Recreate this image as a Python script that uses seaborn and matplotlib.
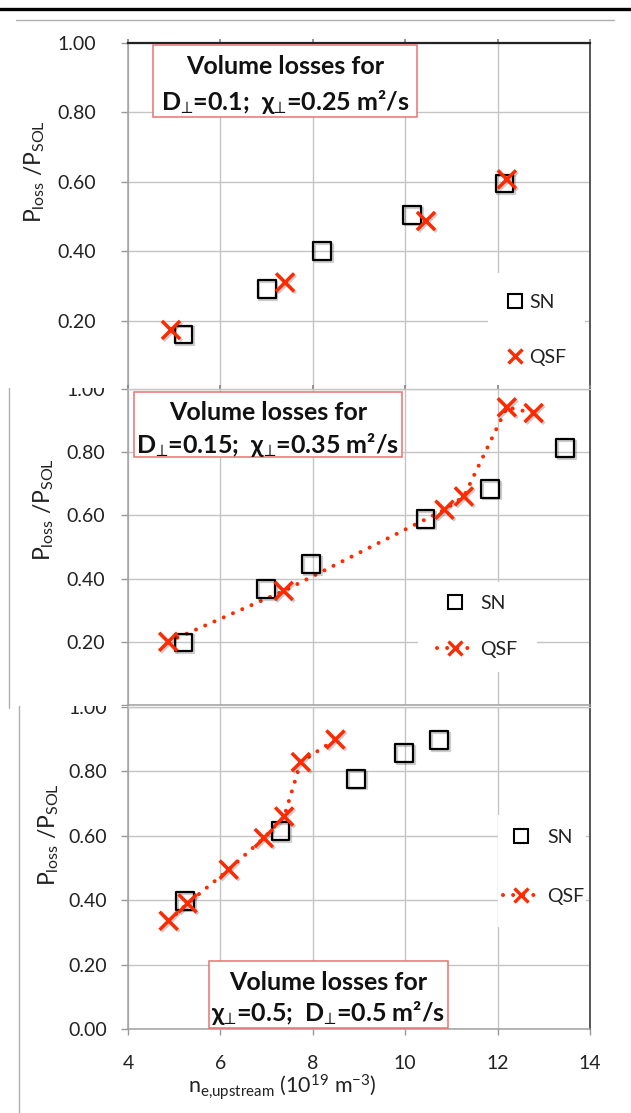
import matplotlib
matplotlib.use("Agg")
import matplotlib.pyplot as plt
import matplotlib.patheffects as pe
import numpy as np
import pandas as pd
import seaborn as sns
from matplotlib.lines import Line2D
from matplotlib.patches import Rectangle
from matplotlib.transforms import Bbox, TransformedBbox

# ---------------- data ----------------
x_ticks = [4, 6, 8, 10, 12, 14]
y_ticks = [0.0, 0.2, 0.4, 0.6, 0.8, 1.0]

# panel 1 : D=0.1, chi=0.25
sn1_x = [5.2, 7.0, 8.2, 10.15, 12.15]
sn1_y = [0.16, 0.29, 0.40, 0.505, 0.595]
qsf1_x = [4.93, 7.4, 10.45, 12.2]
qsf1_y = [0.173, 0.31, 0.487, 0.607]

# panel 2 : D=0.15, chi=0.35
sn2_x = [5.2, 6.99, 7.97, 10.44, 11.84, 13.46]
sn2_y = [0.198, 0.366, 0.445, 0.589, 0.684, 0.812]
qsf2_x = [4.87, 7.37, 10.85, 11.27, 12.2, 12.78]
qsf2_y = [0.200, 0.361, 0.618, 0.660, 0.942, 0.924]

# panel 3 : chi=0.5, D=0.5
sn3_x = [5.24, 7.30, 8.94, 9.98, 10.73]
sn3_y = [0.398, 0.615, 0.777, 0.857, 0.897]
qsf3_x = [4.88, 5.29, 6.18, 6.94, 7.38, 7.74, 8.49]
qsf3_y = [0.336, 0.390, 0.495, 0.593, 0.660, 0.829, 0.899]

titles1 = ["Volume losses for", r"D$_{⊥}$=0.1;  χ$_{⊥}$=0.25 m²/s"]
titles2 = ["Volume losses for", r"D$_{⊥}$=0.15;  χ$_{⊥}$=0.35 m²/s"]
titles3 = ["Volume losses for", r"χ$_{⊥}$=0.5;  D$_{⊥}$=0.5 m²/s"]
legend_labels = ["SN", "QSF"]
ylabel_text = r"P$_{loss}$ /P$_{SOL}$"
xlabel_text = r"n$_{e{,}upstream}$ (10$^{19}$ m$^{-3}$)"

# ---------------- style ----------------
sns.set_theme(style="white")
plt.rcParams["font.family"] = ["Lato", "DejaVu Sans"]
plt.rcParams["mathtext.default"] = "regular"

RED = "#FF2A00"
GRID = "#c4c4c4"
TXT = "#222222"
W, H = 631, 1113
fig = plt.figure(figsize=(W / 100, H / 100), dpi=100)


def fx(px):
    return px / W


def fy(py):
    return 1 - py / H


def axrect(x0, y0, x1, y1):
    return [x0 / W, 1 - y1 / H, (x1 - x0) / W, (y1 - y0) / H]


shadow = [pe.SimpleLineShadow(offset=(1.2, -1.2), shadow_color="k", alpha=0.22), pe.Normal()]


def draw_panel(ax, snx, sny, qx, qy, line, yt, top_color, ypad):
    ax.set_xlim(4, 14)
    ax.set_ylim(0, 1)
    ax.set_axisbelow(True)
    ax.grid(True, color=GRID, lw=1.0)
    if line:
        sns.lineplot(x=qx, y=qy, ax=ax, sort=False, estimator=None, color=RED,
                     lw=2.9, linestyle=(0, (0.01, 2.5)), dash_capstyle="round", zorder=2)
    sns.scatterplot(x=snx, y=sny, ax=ax, marker="s", s=165, facecolor="none",
                    edgecolor="black", linewidth=1.6, zorder=3)
    ax.collections[-1].set_facecolor("none")
    ax.collections[-1].set_edgecolor("black")
    ax.collections[-1].set_path_effects(shadow)
    sns.scatterplot(x=qx, y=qy, ax=ax, marker="x", s=170, color=RED,
                    linewidth=2.5, zorder=4)
    ax.collections[-1].set_path_effects(shadow)
    ax.set_xticks(x_ticks)
    ax.set_yticks(yt)
    ax.set_yticklabels([f"{v:.2f}" for v in yt])
    ax.set_xlabel("")
    ax.set_ylabel("")
    ax.tick_params(axis="y", left=True, length=5, width=1, color="#999999",
                   pad=ypad, labelsize=14, labelcolor=TXT)
    for s in ["left", "bottom"]:
        ax.spines[s].set_color("#a0a0a0")
        ax.spines[s].set_linewidth(1.1)
    ax.spines["right"].set_color("#555555")
    ax.spines["right"].set_linewidth(1.4)
    ax.spines["top"].set_color(top_color)
    ax.spines["top"].set_linewidth(1.6 if top_color != GRID else 1.0)


def title_box(ax, lines, x0, y0, x1, y1, ly1, ly2):
    ax.add_patch(Rectangle((fx(x0), fy(y1)), (x1 - x0) / W, (y1 - y0) / H,
                           transform=fig.transFigure, fc="white", ec="#EE7070",
                           lw=1.1, zorder=5))
    cx = (x0 + x1) / 2
    for txt, ly in zip(lines, [ly1, ly2]):
        ax.text(fx(cx), fy(ly), txt, transform=fig.transFigure, ha="center",
                va="center", fontsize=18, fontweight="bold", color="#111111", zorder=6)


def legend_box(ax, x0, y0, x1, y1, left, midy, with_line, hl, ls):
    ax.add_patch(Rectangle((fx(x0), fy(y1)), (x1 - x0) / W, (y1 - y0) / H,
                           transform=fig.transFigure, fc="white", ec="none", zorder=5))
    h_sn = Line2D([], [], ls="none", marker="s", ms=10, mfc="none", mec="black", mew=1.5)
    if with_line:
        h_q = Line2D([], [], color=RED, lw=2.9, ls=(0, (0.01, 2.5)), dash_capstyle="round",
                     marker="x", ms=10, mew=2.4, mec=RED)
    else:
        h_q = Line2D([], [], ls="none", color=RED, marker="x", ms=10, mew=2.4, mec=RED)
    leg = ax.legend([h_sn, h_q], legend_labels, loc="center left",
                    bbox_to_anchor=(fx(left), fy(midy)), bbox_transform=fig.transFigure,
                    frameon=False, borderpad=0, borderaxespad=0, handlelength=hl,
                    handletextpad=0.36, labelspacing=ls, fontsize=14)
    for t in leg.get_texts():
        t.set_color(TXT)
    leg.set_zorder(7)


# ---------------- page decorations ----------------
fig.add_artist(Line2D([0, 1], [fy(9), fy(9)], transform=fig.transFigure, color="black", lw=2.4))
fig.add_artist(Line2D([fx(16), fx(614)], [fy(20), fy(20)], transform=fig.transFigure,
                      color="#b0b0b0", lw=1.0))

# ---------------- panel 1 ----------------
ax1 = fig.add_axes(axrect(128, 43, 590, 390))
ax1.set_zorder(1)
draw_panel(ax1, sn1_x, sn1_y, qsf1_x, qsf1_y, False, y_ticks[1:], "#222222", 18)
ax1.tick_params(axis="x", bottom=False, labelbottom=False, top=True, length=3,
                color="#888888")
title_box(ax1, titles1, 153, 45, 417, 117, 67, 102)
legend_box(ax1, 488, 273, 585, 392, 507.5, 330, False, 0.74, 1.94)
fig.text(fx(35), fy(172), ylabel_text, rotation=90, ha="center", va="center",
         fontsize=16.5, color=TXT, zorder=10)

# ---------------- panel 2 ----------------
r2 = Rectangle((fx(9), fy(708)), (W - 9) / W, (708 - 388) / H, transform=fig.transFigure,
               fc="white", ec="none", zorder=2)
fig.add_artist(r2)
fig.add_artist(Line2D([fx(9), fx(9)], [fy(388), fy(708)], transform=fig.transFigure,
                      color="#b0b0b0", lw=1.0, zorder=2.5))
ax2 = fig.add_axes(axrect(128, 389, 590, 705))
ax2.set_zorder(3)
draw_panel(ax2, sn2_x, sn2_y, qsf2_x, qsf2_y, True, y_ticks, GRID, 11.5)
ax2.tick_params(axis="x", bottom=False, labelbottom=False, top=True, length=3,
                color="#888888")
title_box(ax2, titles2, 134, 392, 402, 457, 413, 445)
legend_box(ax2, 418, 582, 537, 672, 437, 626.5, True, 1.86, 1.47)
fig.text(fx(44), fy(510), ylabel_text, rotation=90, ha="center", va="center",
         fontsize=16.5, color=TXT, zorder=10)

# ---------------- panel 3 ----------------
r3 = Rectangle((fx(19), 0), (W - 19) / W, (H - 706) / H, transform=fig.transFigure,
               fc="white", ec="none", zorder=4)
fig.add_artist(r3)
fig.add_artist(Line2D([fx(19), fx(19)], [fy(706), 0], transform=fig.transFigure,
                      color="#b0b0b0", lw=1.0, zorder=4.5))
ax3 = fig.add_axes(axrect(128, 707, 590, 1029))
ax3.set_zorder(5)
draw_panel(ax3, sn3_x, sn3_y, qsf3_x, qsf3_y, True, y_ticks, GRID, 10)
ax3.tick_params(axis="x", bottom=True, length=4, width=1, color="#999999", pad=15,
                labelsize=14, labelcolor=TXT)
ax3.set_xticklabels([str(v) for v in x_ticks])
title_box(ax3, titles3, 209, 961, 448, 1028, 982, 1013)
legend_box(ax3, 498, 815, 586, 927, 503, 867, True, 1.9, 2.14)
fig.text(fx(49), fy(835), ylabel_text, rotation=90, ha="center", va="center",
         fontsize=16.5, color=TXT, zorder=10)
fig.text(fx(282), fy(1087), xlabel_text, ha="center", va="center", fontsize=15.5,
         color=TXT, zorder=10)

# clip the cut-off labels where the stacked panels overlap
for ax, top, bottom in [(ax2, 388, 694), (ax3, 706, H)]:
    cb = TransformedBbox(Bbox.from_extents(0, fy(bottom), 1, fy(top)), fig.transFigure)
    for t in ax.yaxis.get_major_ticks():
        t.label1.set_clip_box(cb)
        t.label1.set_clip_on(True)

fig.savefig("out.png", dpi=100)
